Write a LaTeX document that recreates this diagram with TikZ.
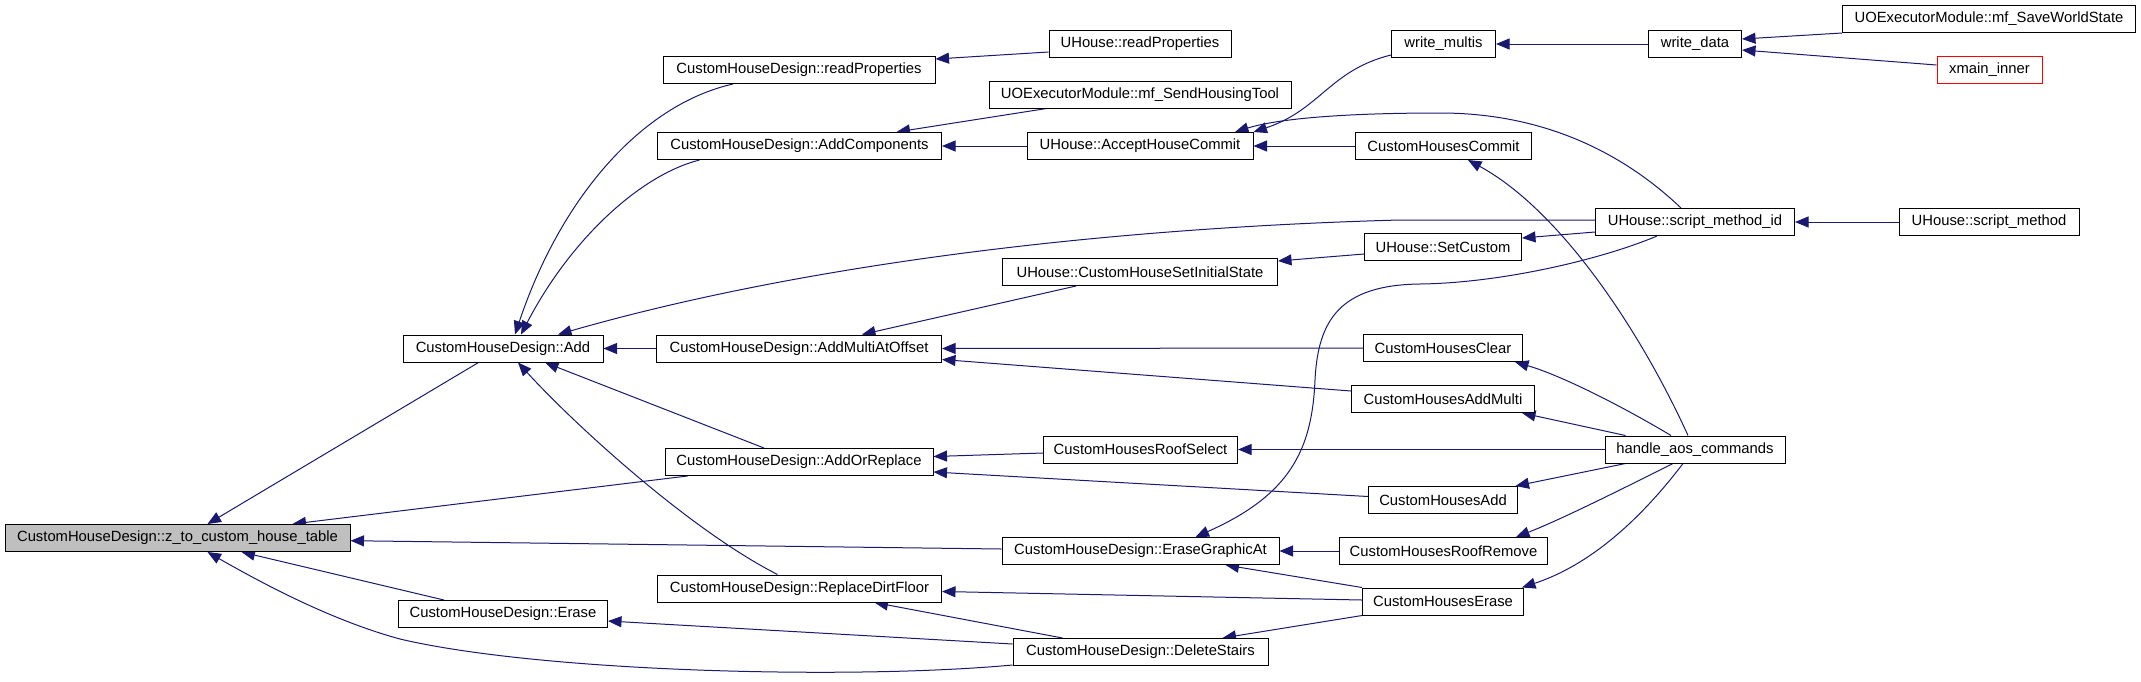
\documentclass[tikz,border=0pt]{standalone}
\usepackage{fontspec}
\setmainfont{Liberation Sans}
\usetikzlibrary{arrows.meta,backgrounds}
\definecolor{edgeblue}{HTML}{191970}
\definecolor{nodegray}{HTML}{BFBFBF}
\begin{document}
\begin{tikzpicture}[x=1pt,y=-1pt,
  box/.style={draw=black,fill=white,line width=1pt,minimum height=27pt,inner sep=0pt,font=\fontsize{14.8}{17}\selectfont},
  calls/.style={draw=edgeblue,line width=1pt,-{Triangle[length=13.5pt,width=11pt]}}]
\useasboundingbox (0,0) rectangle (2141,681);
% nodes
\node[box,minimum width=345,fill=nodegray] (z) at (177.5,538) {CustomHouseDesign::z\_to\_custom\_house\_table};
\node[box,minimum width=200] (add) at (503,348.5) {CustomHouseDesign::Add};
\node[box,minimum width=209] (erase) at (503,614) {CustomHouseDesign::Erase};
\node[box,minimum width=272] (readProps) at (799,70) {CustomHouseDesign::readProperties};
\node[box,minimum width=284] (addComp) at (799.5,146) {CustomHouseDesign::AddComponents};
\node[box,minimum width=285] (addMulti) at (799,348.5) {CustomHouseDesign::AddMultiAtOffset};
\node[box,minimum width=268] (addOrRep) at (799,462) {CustomHouseDesign::AddOrReplace};
\node[box,minimum width=284] (replDirt) at (799.5,588.5) {CustomHouseDesign::ReplaceDirtFloor};
\node[box,minimum width=182] (uhRead) at (1140,44) {UHouse::readProperties};
\node[box,minimum width=302] (sendTool) at (1140,94.5) {UOExecutorModule::mf\_SendHousingTool};
\node[box,minimum width=226] (accept) at (1140,146) {UHouse::AcceptHouseCommit};
\node[box,minimum width=275] (setInit) at (1140,272) {UHouse::CustomHouseSetInitialState};
\node[box,minimum width=194] (roofSel) at (1140.5,449.5) {CustomHousesRoofSelect};
\node[box,minimum width=277] (eraseGfx) at (1140.5,551) {CustomHouseDesign::EraseGraphicAt};
\node[box,minimum width=255] (delStairs) at (1140.5,652) {CustomHouseDesign::DeleteStairs};
\node[box,minimum width=104] (wMultis) at (1443.5,44) {write\_multis};
\node[box,minimum width=176] (chCommit) at (1443.5,146) {CustomHousesCommit};
\node[box,minimum width=157] (setCustom) at (1443,247) {UHouse::SetCustom};
\node[box,minimum width=159] (chClear) at (1443,348) {CustomHousesClear};
\node[box,minimum width=183] (chAddMulti) at (1443,399) {CustomHousesAddMulti};
\node[box,minimum width=149] (chAdd) at (1443,500) {CustomHousesAdd};
\node[box,minimum width=208] (chRoofRem) at (1443.5,551) {CustomHousesRoofRemove};
\node[box,minimum width=161] (chErase) at (1443,601.5) {CustomHousesErase};
\node[box,minimum width=93] (wData) at (1695,44) {write\_data};
\node[box,minimum width=199] (sid) at (1695,222) {UHouse::script\_method\_id};
\node[box,minimum width=180] (aos) at (1695,449.5) {handle\_aos\_commands};
\node[box,minimum width=293] (saveWorld) at (1989,19) {UOExecutorModule::mf\_SaveWorldState};
\node[box,minimum width=105,draw=red] (xmain) at (1989.5,70) {xmain\_inner};
\node[box,minimum width=180] (sMethod) at (1989,222) {UHouse::script\_method};
% edges
\begin{pgfonlayer}{background}
\draw[calls] ([xshift=76]add.south west) -- ([xshift=30]z.north);
\draw[calls] ([xshift=23]addOrRep.south west) -- ([xshift=115]z.north);
\draw[calls] ([yshift=2]eraseGfx.west) -- ([yshift=-2.7]z.east);
\draw[calls] ([xshift=46]erase.north west) -- ([xshift=64]z.south);
\draw[calls] ([yshift=1]delStairs.south west) .. controls (850,680) and (540,672) .. (400,639) .. controls (330,620) and (260,582) .. ([xshift=30]z.south);
\draw[calls] ([xshift=-66]readProps.south) .. controls (640,105) and (560,200) .. ([xshift=12]add.north);
\draw[calls] ([xshift=-100]addComp.south) .. controls (640,175) and (570,240) .. ([xshift=18]add.north);
\draw[calls] ([yshift=2]sid.west) -- (1400,220) .. controls (1100,228) and (800,265) .. ([xshift=55]add.north);
\draw[calls] (addMulti.west) -- (add.east);
\draw[calls] ([xshift=-35]addOrRep.north) -- ([xshift=42]add.south);
\draw[calls] ([xshift=-22]replDirt.north) .. controls (690,530) and (575,425) .. ([xshift=15]add.south);
\draw[calls] ([yshift=-8]uhRead.west) -- ([yshift=11]readProps.east);
\draw[calls] ([xshift=58]sendTool.south west) -- ([xshift=97]addComp.north);
\draw[calls] (accept.west) -- (addComp.east);
\draw[calls] ([yshift=3]wMultis.south west) .. controls (1330,70) and (1320,110) .. (accept.north east);
\draw[calls] ([xshift=-14]sid.north) .. controls (1620,150) and (1540,113) .. (1440,113) .. controls (1350,113) and (1280,118) .. ([xshift=95]accept.north);
\draw[calls] (chCommit.west) -- (accept.east);
\draw[calls] ([xshift=-7]aos.north) .. controls (1640,330) and (1560,210) .. ([xshift=24.5]chCommit.south);
\draw[calls] ([yshift=-7]setCustom.west) -- ([yshift=11]setInit.east);
\draw[calls] ([xshift=74]setInit.south west) -- ([xshift=63]addMulti.north);
\draw[calls] ([yshift=-10]sid.west) -- ([yshift=9]setCustom.east);
\draw[calls] (chClear.west) -- (addMulti.east);
\draw[calls] ([yshift=8]chAddMulti.west) -- ([yshift=-11]addMulti.east);
\draw[calls] ([yshift=-3.5]roofSel.west) -- ([yshift=5.5]addOrRep.east);
\draw[calls] ([yshift=3.5]chAdd.west) -- ([yshift=-10]addOrRep.east);
\draw[calls] (aos.west) -- (roofSel.east);
\draw[calls] ([xshift=-24]aos.north) .. controls (1620,405) and (1560,375) .. ([xshift=-8]chClear.south east);
\draw[calls] ([xshift=21]aos.north west) -- ([xshift=-13]chAddMulti.south east);
\draw[calls] ([xshift=21]aos.south west) -- ([xshift=-2.5]chAdd.north east);
\draw[calls] ([xshift=-22]aos.south) .. controls (1620,490) and (1560,520) .. ([xshift=-32]chRoofRem.north east);
\draw[calls] ([xshift=-12]aos.south) .. controls (1640,520) and (1590,565) .. ([xshift=-2]chErase.north east);
\draw[calls] (chRoofRem.west) -- (eraseGfx.east);
\draw[calls] (chErase.north west) -- ([xshift=85]eraseGfx.south);
\draw[calls] ([xshift=-38]sid.south) .. controls (1600,260) and (1500,283) .. (1420,284) .. controls (1340,285) and (1318,320) .. (1315,380) .. controls (1312,450) and (1290,495) .. ([xshift=55]eraseGfx.north);
\draw[calls] ([yshift=1.5]chErase.west) -- ([yshift=-3]replDirt.east);
\draw[calls] ([xshift=50]delStairs.north west) -- ([xshift=75]replDirt.south);
\draw[calls] ([yshift=8]delStairs.west) -- ([yshift=-7]erase.east);
\draw[calls] (chErase.south west) -- ([xshift=82]delStairs.north);
\draw[calls] (wData.west) -- (wMultis.east);
\draw[calls] (saveWorld.south west) -- ([yshift=5]wData.east);
\draw[calls] ([yshift=5]xmain.west) -- ([yshift=-6]wData.east);
\draw[calls] (sMethod.west) -- (sid.east);
\end{pgfonlayer}
\end{tikzpicture}
\end{document}
